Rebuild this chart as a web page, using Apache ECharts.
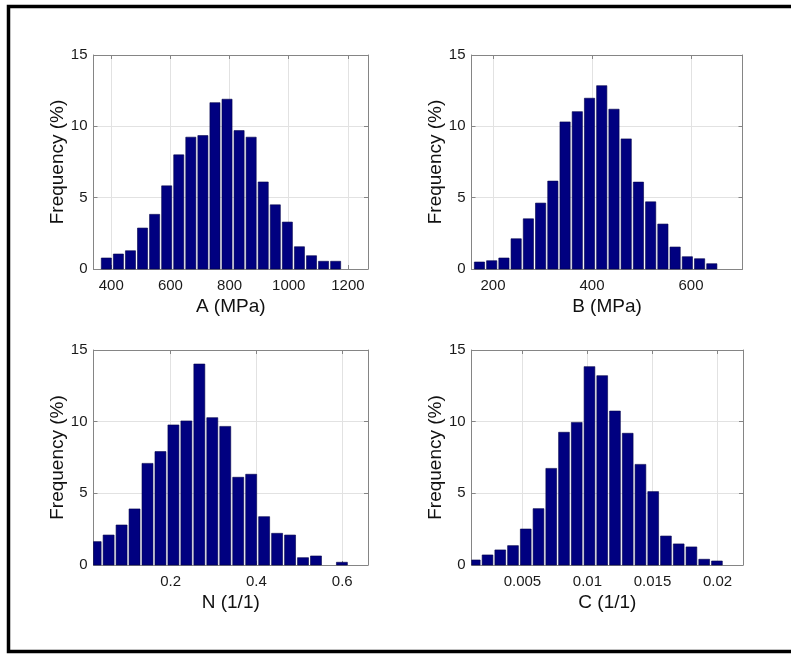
<!DOCTYPE html>
<html>
<head>
<meta charset="utf-8">
<script src="https://cdn.jsdelivr.net/npm/echarts@6/dist/echarts.min.js"></script>
<style>
html,body{margin:0;padding:0;background:#fff;}
#chart{width:791px;height:654px;}
</style>
</head>
<body>
<div id="chart"></div>
<script>
// ---- Data ----
const yTicks = [0, 5, 10, 15];

// Panel A: A (MPa)
const binsA = [383.4, 424.2, 465.0, 505.8, 546.6, 587.4, 628.2, 669.0, 709.8, 750.6, 791.4, 832.2, 873.0, 913.8, 954.6, 995.4, 1036.2, 1077.0, 1117.8, 1158.6];
const freqA = [0.77, 1.05, 1.28, 2.87, 3.83, 5.83, 8.0, 9.24, 9.35, 11.66, 11.9, 9.7, 9.24, 6.1, 4.5, 3.29, 1.56, 0.93, 0.54, 0.54];
const binWidthA = 40.8;
const xTicksA = [400, 600, 800, 1000, 1200];

// Panel B: B (MPa)
const binsB = [172.7, 197.4, 222.1, 246.8, 271.5, 296.2, 320.9, 345.6, 370.3, 395.0, 419.7, 444.4, 469.1, 493.8, 518.5, 543.2, 567.9, 592.6, 617.3, 642.0];
const freqB = [0.49, 0.58, 0.77, 2.12, 3.52, 4.62, 6.16, 10.31, 11.03, 11.97, 12.85, 11.2, 9.12, 6.09, 4.71, 3.15, 1.54, 0.86, 0.72, 0.37];
const binWidthB = 24.7;
const xTicksB = [200, 400, 600];

// Panel N: N (1/1)
const binsN = [0.0254, 0.0556, 0.0858, 0.1160, 0.1462, 0.1764, 0.2066, 0.2368, 0.2670, 0.2972, 0.3274, 0.3576, 0.3878, 0.4180, 0.4482, 0.4784, 0.5086, 0.5388, 0.5690, 0.5992];
const freqN = [1.63, 2.09, 2.79, 3.91, 7.09, 7.91, 9.77, 10.05, 14.02, 10.28, 9.67, 6.12, 6.33, 3.37, 2.21, 2.09, 0.51, 0.63, 0, 0.19];
const binWidthN = 0.0302;
const xTicksN = [0.2, 0.4, 0.6];

// Panel C: C (1/1)
const binsC = [0.001336, 0.002316, 0.003296, 0.004276, 0.005256, 0.006236, 0.007216, 0.008196, 0.009176, 0.010156, 0.011136, 0.012116, 0.013096, 0.014076, 0.015056, 0.016036, 0.017016, 0.017996, 0.018976, 0.019956];
const freqC = [0.35, 0.70, 1.05, 1.35, 2.51, 3.93, 6.74, 9.26, 9.95, 13.84, 13.21, 10.74, 9.19, 7.02, 5.12, 2.02, 1.47, 1.26, 0.40, 0.28];
const binWidthC = 0.00098;
const xTicksC = [0.005, 0.01, 0.015, 0.02];

const panels = [
  {name: 'A (MPa)', bins: binsA, freq: freqA, bw: binWidthA, ticks: xTicksA, min: 340, max: 1268},
  {name: 'B (MPa)', bins: binsB, freq: freqB, bw: binWidthB, ticks: xTicksB, min: 156.6, max: 704},
  {name: 'N (1/1)', bins: binsN, freq: freqN, bw: binWidthN, ticks: xTicksN, min: 0.0204, max: 0.66},
  {name: 'C (1/1)', bins: binsC, freq: freqC, bw: binWidthC, ticks: xTicksC, min: 0.0011, max: 0.02196}
];

// ---- Layout / style ----
const gridPos = [
  {left: 93.5, top: 55, width: 274.5, height: 214},
  {left: 471.5, top: 55, width: 271, height: 214},
  {left: 93.5, top: 350, width: 274.5, height: 215},
  {left: 471.7, top: 350, width: 271.3, height: 215}
];
const FONT = 'Liberation Sans, Arial, sans-serif';
const axisGray = '#858585';
const gridGray = '#e2e2e2';
const barColor = '#000080';
const fmt = v => String(+Number(v).toPrecision(10));

const chart = echarts.init(document.getElementById('chart'), null, {renderer: 'canvas'});

const grids = [], xAxes = [], yAxes = [], series = [];
panels.forEach((p, i) => {
  grids.push(Object.assign({containLabel: false}, gridPos[i]));
  const step = p.ticks[1] - p.ticks[0];
  const tickCommon = {show: true, inside: true, length: 4, lineStyle: {color: axisGray}};
  xAxes.push({
    type: 'value', gridIndex: i, min: p.min, max: p.max,
    minInterval: step, maxInterval: step,
    name: p.name, nameLocation: 'middle', nameGap: 28,
    nameTextStyle: {fontFamily: FONT, fontSize: 19, color: '#111'},
    axisLine: {show: true, lineStyle: {color: axisGray, width: 1}},
    axisTick: tickCommon,
    axisLabel: {show: true, margin: 9, fontFamily: FONT, fontSize: 15, color: '#1a1a1a', showMinLabel: false, showMaxLabel: false, formatter: fmt},
    splitLine: {show: true, lineStyle: {color: gridGray, width: 1}}
  });
  xAxes.push({
    type: 'value', gridIndex: i, position: 'top', min: p.min, max: p.max,
    minInterval: step, maxInterval: step,
    axisLine: {show: true, onZero: false, lineStyle: {color: axisGray, width: 1}},
    axisTick: tickCommon,
    axisLabel: {show: false}, splitLine: {show: false}
  });
  yAxes.push({
    type: 'value', gridIndex: i, min: yTicks[0], max: yTicks[yTicks.length - 1], interval: yTicks[1] - yTicks[0],
    name: 'Frequency (%)', nameLocation: 'middle', nameGap: 26,
    nameTextStyle: {fontFamily: FONT, fontSize: 19, color: '#111'},
    axisLine: {show: true, onZero: false, lineStyle: {color: axisGray, width: 1}},
    axisTick: tickCommon,
    axisLabel: {show: true, margin: 6, fontFamily: FONT, fontSize: 15, color: '#1a1a1a', formatter: fmt},
    splitLine: {show: true, lineStyle: {color: gridGray, width: 1}}
  });
  yAxes.push({
    type: 'value', gridIndex: i, position: 'right', min: yTicks[0], max: yTicks[yTicks.length - 1], interval: yTicks[1] - yTicks[0],
    axisLine: {show: true, onZero: false, lineStyle: {color: axisGray, width: 1}},
    axisTick: tickCommon,
    axisLabel: {show: false}, splitLine: {show: false}
  });
  const bw = p.bw;
  series.push({
    type: 'custom',
    xAxisIndex: i * 2, yAxisIndex: i * 2,
    data: p.bins.map((c, k) => [c, p.freq[k]]),
    renderItem: function (params, api) {
      const c = api.value(0), h = api.value(1);
      if (!(h > 0)) return null;
      const pTop = api.coord([c - bw / 2, h]);
      const pBot = api.coord([c + bw / 2, 0]);
      let rect = {
        x: pTop[0] + 1, y: pTop[1],
        width: pBot[0] - pTop[0] - 2, height: pBot[1] - pTop[1]
      };
      const cs = params.coordSys;
      rect = echarts.graphic.clipRectByRect(rect, {x: cs.x, y: cs.y, width: cs.width, height: cs.height});
      if (!rect) return null;
      return {type: 'rect', shape: rect, style: {fill: barColor, stroke: '#00004a', lineWidth: 0.6}};
    },
    silent: true,
    animation: false,
    z: 3
  });
});

chart.setOption({
  backgroundColor: '#ffffff',
  animation: false,
  grid: grids,
  xAxis: xAxes,
  yAxis: yAxes,
  series: series,
  graphic: [{
    type: 'rect',
    shape: {x: 8.5, y: 6.5, width: 800, height: 645},
    style: {fill: null, stroke: '#000', lineWidth: 3.5},
    silent: true, z: 100
  }]
});
</script>
</body>
</html>
